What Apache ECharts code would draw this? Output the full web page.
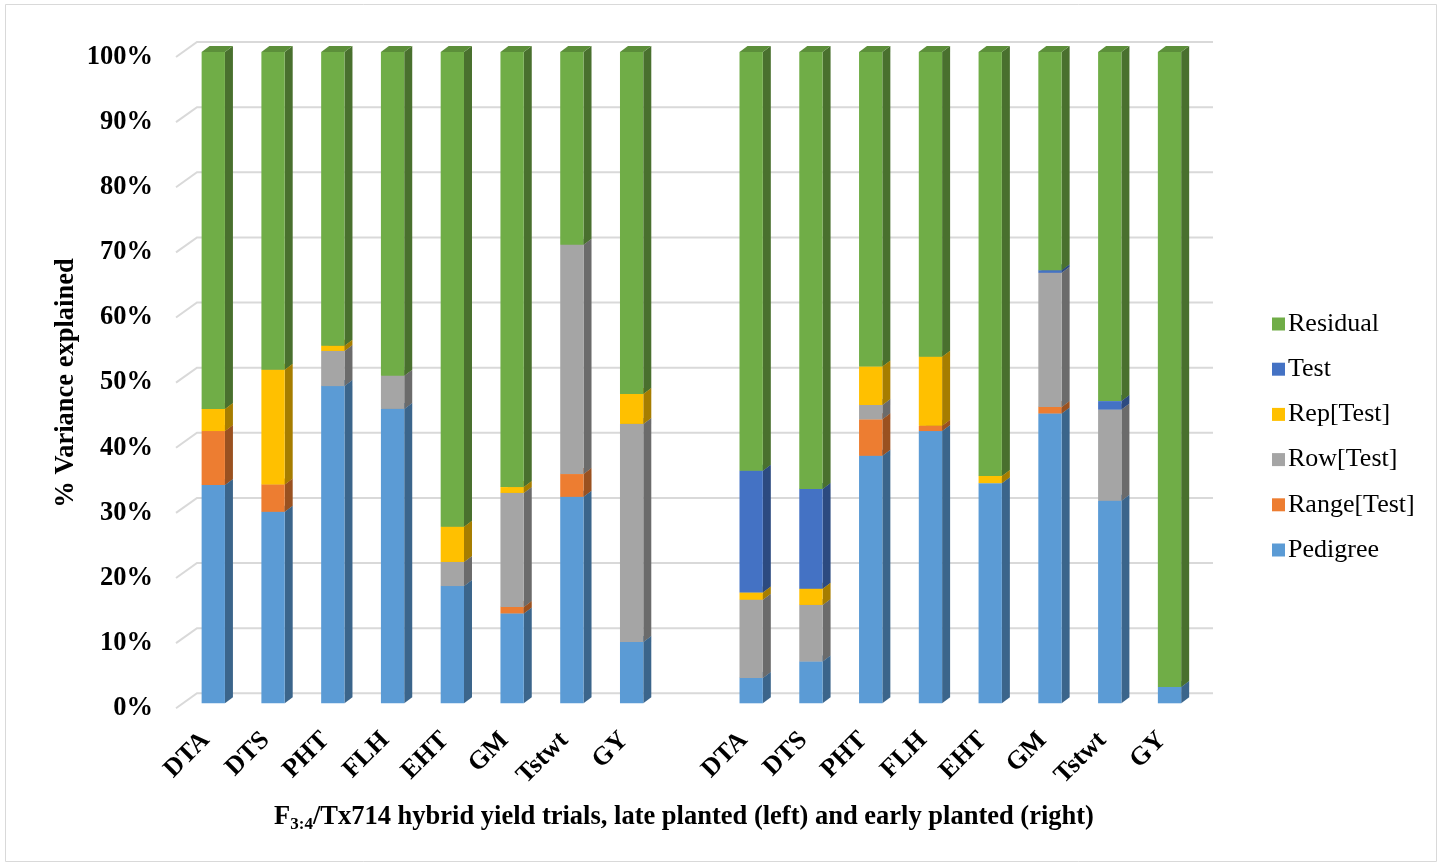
<!DOCTYPE html>
<html>
<head>
<meta charset="utf-8">
<script src="https://cdn.jsdelivr.net/npm/echarts@6/dist/echarts.min.js"></script>
<style>
  html, body { margin: 0; padding: 0; background: #ffffff; }
  #chart { width: 1442px; height: 866px; }
</style>
</head>
<body>
<div id="chart"></div>
<script>
// Trait groups: late planted (left), a spacer slot, early planted (right)
const categories = ['DTA', 'DTS', 'PHT', 'FLH', 'EHT', 'GM', 'Tstwt', 'GY', '',
                    'DTA', 'DTS', 'PHT', 'FLH', 'EHT', 'GM', 'Tstwt', 'GY'];

// Percent of variance explained by each component
const pedigree  = [33.5, 29.4, 48.7, 45.2, 18.0, 13.8, 31.7,  9.4, null,  3.9,  6.4, 38.0, 41.8, 33.8, 44.5, 31.1,  2.5];
const rangeTest = [ 8.3,  4.2,  0.0,  0.0,  0.0,  1.0,  3.5,  0.0, null,  0.0,  0.0,  5.6,  0.8,  0.0,  1.0,  0.0,  0.0];
const rowTest   = [ 0.0,  0.0,  5.4,  5.1,  3.7, 17.5, 35.2, 33.5, null, 12.0,  8.7,  2.2,  0.0,  0.0, 20.6, 14.0,  0.0];
const repTest   = [ 3.4, 17.6,  0.8,  0.0,  5.4,  0.9,  0.0,  4.6, null,  1.1,  2.5,  5.9, 10.6,  1.1,  0.0,  0.0,  0.0];
const testVar   = [ 0.0,  0.0,  0.0,  0.0,  0.0,  0.0,  0.0,  0.0, null, 18.7, 15.3,  0.0,  0.0,  0.0,  0.4,  1.3,  0.0];
const residual  = [54.8, 48.8, 45.1, 49.7, 72.9, 66.8, 29.6, 52.5, null, 64.3, 67.1, 48.3, 46.8, 65.1, 33.5, 53.6, 97.5];

const yTicks = [0, 10, 20, 30, 40, 50, 60, 70, 80, 90, 100];

const FONT = '"Liberation Serif", "Times New Roman", serif';

// Components in stacking order, bottom to top
const layers = [
  { name: 'Pedigree',    values: pedigree,  front: '#5B9BD5', side: '#3B658B', top: '#4A80B0' },
  { name: 'Range[Test]', values: rangeTest, front: '#ED7D31', side: '#9A5120', top: '#C36728' },
  { name: 'Row[Test]',   values: rowTest,   front: '#A5A5A5', side: '#6B6B6B', top: '#888888' },
  { name: 'Rep[Test]',   values: repTest,   front: '#FFC000', side: '#A67D00', top: '#D29E00' },
  { name: 'Test',        values: testVar,   front: '#4472C4', side: '#2C4A80', top: '#385EA2' },
  { name: 'Residual',    values: residual,  front: '#70AD47', side: '#49702E', top: '#5C8F3A' }
];

// 3D look: bar sits a little behind the floor's front edge; depth drawn as a skewed side/top
const BAR_SHIFT_X = 7.4, BAR_SHIFT_Y = 5;
const DEPTH_X = 8, DEPTH_Y = 6;
const WALL_X = 21, WALL_Y = 15;

function barRenderer(layer) {
  return function (params, api) {
    const i = api.value(0);
    const b = api.coord([i, api.value(1)]);
    const t = api.coord([i, api.value(2)]);
    const band = api.size([1, 0])[0];
    const w = band * 0.39;
    const xl = b[0] + BAR_SHIFT_X - w / 2;
    const xr = xl + w;
    const yb = b[1] - BAR_SHIFT_Y;
    const yt = t[1] - BAR_SHIFT_Y;
    return {
      type: 'group',
      children: [
        { type: 'polygon', shape: { points: [[xr, yb], [xr + DEPTH_X, yb - DEPTH_Y], [xr + DEPTH_X, yt - DEPTH_Y], [xr, yt]] },
          style: { fill: layer.side } },
        { type: 'polygon', shape: { points: [[xl, yt], [xl + DEPTH_X, yt - DEPTH_Y], [xr + DEPTH_X, yt - DEPTH_Y], [xr, yt]] },
          style: { fill: layer.top } },
        { type: 'rect', shape: { x: xl, y: yt, width: w, height: yb - yt },
          style: { fill: layer.front } }
      ]
    };
  };
}

// Cumulative bottoms/tops for each stacked segment
const running = categories.map(() => 0);
const barSeries = layers.map(layer => {
  const data = [];
  layer.values.forEach((v, i) => {
    if (v == null) return;
    if (v > 0) data.push([i, running[i], running[i] + v]);
    running[i] += v;
  });
  return {
    name: layer.name,
    type: 'custom',
    renderItem: barRenderer(layer),
    itemStyle: { color: layer.front },
    encode: { x: 0, y: [1, 2] },
    data: data,
    z: 3
  };
});

// Back wall gridlines with the slanted side-wall segments
const gridSeries = {
  type: 'custom',
  silent: true,
  z: 1,
  renderItem: function (params, api) {
    const v = api.value(1);
    const band = api.size([1, 0])[0];
    const p0 = api.coord([0, v]);
    const p1 = api.coord([categories.length - 1, v]);
    const x0 = p0[0] - band / 2;
    const x1 = p1[0] + band / 2 + WALL_X;
    const y = p0[1];
    return {
      type: 'polyline',
      shape: { points: [[x0, y], [x0 + WALL_X, y - WALL_Y], [x1, y - WALL_Y]] },
      style: { stroke: '#D9D9D9', lineWidth: 2, fill: null }
    };
  },
  data: yTicks.map(v => [0, v])
};

const chart = echarts.init(document.getElementById('chart'), null, { renderer: 'canvas' });
chart.setOption({
  animation: false,
  backgroundColor: '#ffffff',
  grid: { left: 176, right: 250, top: 57, bottom: 157.7, containLabel: false },
  xAxis: {
    type: 'category',
    data: categories,
    axisLine: { show: false },
    axisTick: { show: false },
    splitLine: { show: false },
    axisLabel: {
      interval: 0,
      rotate: 45,
      margin: 28,
      color: '#000000',
      fontFamily: FONT,
      fontWeight: 'bold',
      fontSize: 26
    }
  },
  yAxis: {
    type: 'value',
    min: 0,
    max: 100,
    interval: 10,
    axisLine: { show: false },
    axisTick: { show: false },
    splitLine: { show: false },
    axisLabel: {
      formatter: '{value}%',
      margin: 23,
      color: '#000000',
      fontFamily: FONT,
      fontWeight: 'bold',
      fontSize: 26.5,
      padding: [3, 0, 0, 0]
    }
  },
  legend: {
    orient: 'vertical',
    left: 1267,
    top: 306,
    itemGap: 19.2,
    itemWidth: 13,
    itemHeight: 13,
    icon: 'rect',
    data: ['Residual', 'Test', 'Rep[Test]', 'Row[Test]', 'Range[Test]', 'Pedigree'],
    textStyle: { color: '#000000', fontFamily: FONT, fontSize: 26, padding: [0, 0, 0, -2] }
  },
  graphic: [
    {
      type: 'rect',
      silent: true,
      shape: { x: 5.5, y: 4.5, width: 1431, height: 857 },
      style: { fill: null, stroke: '#D9D9D9', lineWidth: 1 }
    },
    {
      type: 'text',
      x: 66,
      y: 383,
      rotation: Math.PI / 2,
      style: {
        text: '% Variance explained',
        fontFamily: FONT,
        fontWeight: 'bold',
        fontSize: 26.5,
        fill: '#000000',
        align: 'center',
        verticalAlign: 'middle'
      }
    },
    {
      type: 'text',
      x: 684,
      y: 817,
      style: {
        text: '{m|F}{s|3:4}{m|/Tx714 hybrid yield trials, late planted (left) and early planted (right)}',
        align: 'center',
        verticalAlign: 'middle',
        rich: {
          m: { fontFamily: FONT, fontWeight: 'bold', fontSize: 26.5, fill: '#000000' },
          s: { fontFamily: FONT, fontWeight: 'bold', fontSize: 17, fill: '#000000', padding: [15, 0, 0, 0] }
        }
      }
    }
  ],
  series: [gridSeries].concat(barSeries)
});
</script>
</body>
</html>
